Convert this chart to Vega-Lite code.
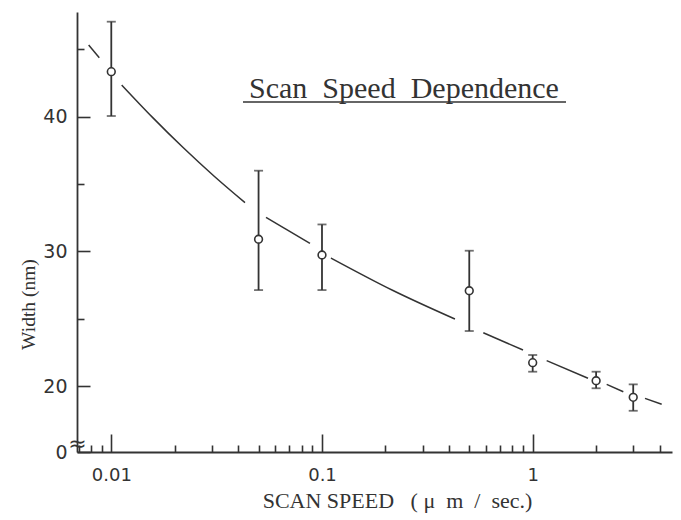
{
  "$schema": "https://vega.github.io/schema/vega-lite/v6.json",
  "width": 595,
  "height": 440,
  "autosize": {"type": "none"},
  "padding": {"left": 77, "top": 12, "right": 9, "bottom": 68},
  "background": "white",
  "config": {
    "view": {"stroke": null},
    "axis": {
      "grid": false,
      "domainColor": "#333",
      "domainWidth": 1.8,
      "tickColor": "#333",
      "tickWidth": 1.6,
      "labelColor": "#333",
      "labelFont": "DejaVu Sans",
      "labelFontWeight": "normal",
      "labelFontSize": 18,
      "titleColor": "#333",
      "titleFont": "Liberation Serif",
      "titleFontWeight": "normal",
      "titleFontSize": 20
    }
  },
  "datasets": {
    "pts": [
      {"speed": 0.01, "width": 43.34, "lo": 40.05, "hi": 47.05},
      {"speed": 0.05, "width": 30.9, "lo": 27.13, "hi": 35.99},
      {"speed": 0.1, "width": 29.73, "lo": 27.13, "hi": 32.0},
      {"speed": 0.5, "width": 27.08, "lo": 24.09, "hi": 30.05},
      {"speed": 1, "width": 21.74, "lo": 21.07, "hi": 22.31},
      {"speed": 2, "width": 20.4, "lo": 19.84, "hi": 21.07},
      {"speed": 3, "width": 19.17, "lo": 18.17, "hi": 20.13}
    ],
    "curve": [
      {"seg": 1, "speed": 0.00781, "width": 45.32},
      {"seg": 1, "speed": 0.00877, "width": 44.38},
      {"seg": 2, "speed": 0.01121, "width": 42.35},
      {"seg": 2, "speed": 0.01569, "width": 39.95},
      {"seg": 2, "speed": 0.02198, "width": 37.69},
      {"seg": 2, "speed": 0.03079, "width": 35.58},
      {"seg": 2, "speed": 0.04311, "width": 33.62},
      {"seg": 3, "speed": 0.05423, "width": 32.53},
      {"seg": 3, "speed": 0.0877, "width": 30.6},
      {"seg": 4, "speed": 0.1103, "width": 29.51},
      {"seg": 4, "speed": 0.2173, "width": 27.1},
      {"seg": 4, "speed": 0.4277, "width": 24.98},
      {"seg": 5, "speed": 0.5829, "width": 23.96},
      {"seg": 5, "speed": 0.8995, "width": 22.68},
      {"seg": 6, "speed": 1.165, "width": 21.89},
      {"seg": 6, "speed": 1.83, "width": 20.58},
      {"seg": 7, "speed": 2.245, "width": 20.13},
      {"seg": 7, "speed": 2.692, "width": 19.58},
      {"seg": 8, "speed": 3.412, "width": 19.09},
      {"seg": 8, "speed": 4.095, "width": 18.65}
    ]
  },
  "layer": [
    {
      "data": {"name": "curve"},
      "mark": {"type": "line", "color": "#333", "strokeWidth": 1.5, "interpolate": "monotone"},
      "encoding": {
        "x": {
          "field": "speed", "type": "quantitative",
          "scale": {"type": "log", "domain": [0.006875, 4.583], "nice": false},
          "axis": {
            "orient": "bottom",
            "values": [0.01, 0.1, 1],
            "labelExpr": "datum.value < 0.05 ? '0.01' : datum.value < 0.5 ? '0.1' : '1'",
            "tickSize": -18,
            "labelPadding": 32,
            "title": "SCAN SPEED\u00a0\u00a0\u00a0(\u00a0\u03bc\u00a0\u00a0m\u00a0\u00a0/\u00a0\u00a0sec.)",
            "titleFontSize": 22,
            "titleBaseline": "alphabetic",
            "titleX": 320,
            "titleY": 55,
            "titleAlign": "center",
            "labelFlush": false
          }
        },
        "y": {
          "field": "width", "type": "quantitative",
          "scale": {"domain": [15.11, 47.77], "nice": false, "zero": false},
          "axis": {
            "orient": "left",
            "values": [15.11, 20, 30, 40],
            "labelExpr": "datum.value < 16 ? '0' : format(datum.value, 'd')",
            "tickSize": -13,
            "labelPadding": 23,
            "labelFontSize": 19,
            "title": "Width (nm)",
            "titleFontSize": 19.5,
            "titleBaseline": "alphabetic",
            "titleAngle": 270,
            "titleX": -43,
            "titleY": 292,
            "titleAlign": "center",
            "titleLimit": 400,
            "labelFlush": false
          }
        },
        "detail": {"field": "seg", "type": "nominal"}
      }
    },
    {
      "data": {"name": "pts"},
      "mark": {"type": "rule", "color": "#333", "strokeWidth": 1.8},
      "encoding": {
        "x": {
          "field": "speed", "type": "quantitative",
          "scale": {"type": "log", "domain": [0.006875, 4.583], "nice": false},
          "axis": {
            "orient": "bottom",
            "values": [0.007, 0.008, 0.009, 0.02, 0.03, 0.04, 0.05, 0.06, 0.07, 0.08, 0.09, 0.2, 0.3, 0.4, 0.5, 0.6, 0.7, 0.8, 0.9, 2, 3, 4],
            "labels": false,
            "domain": false,
            "tickSize": -7,
            "title": null
          }
        },
        "y": {
          "field": "lo", "type": "quantitative",
          "axis": {
            "orient": "left",
            "values": [25, 35, 45],
            "labels": false,
            "domain": false,
            "tickSize": -7,
            "title": null
          }
        },
        "y2": {"field": "hi"}
      }
    },
    {
      "data": {"name": "pts"},
      "mark": {"type": "tick", "orient": "horizontal", "color": "#333", "size": 9, "thickness": 1.8},
      "encoding": {
        "x": {"field": "speed", "type": "quantitative", "axis": null},
        "y": {"field": "lo", "type": "quantitative", "axis": null}
      }
    },
    {
      "data": {"name": "pts"},
      "mark": {"type": "tick", "orient": "horizontal", "color": "#333", "size": 9, "thickness": 1.8},
      "encoding": {
        "x": {"field": "speed", "type": "quantitative", "axis": null},
        "y": {"field": "hi", "type": "quantitative", "axis": null}
      }
    },
    {
      "data": {"name": "pts"},
      "mark": {"type": "point", "shape": "circle", "filled": true, "fill": "white", "stroke": "#333", "strokeWidth": 1.6, "size": 60, "opacity": 1},
      "encoding": {
        "x": {"field": "speed", "type": "quantitative", "axis": null},
        "y": {"field": "width", "type": "quantitative", "axis": null}
      }
    },
    {
      "data": {"values": [{"label": "Scan\u00a0\u00a0Speed\u00a0\u00a0Dependence"}]},
      "mark": {"type": "text", "font": "Liberation Serif", "fontSize": 30, "color": "#333", "align": "center", "baseline": "alphabetic"},
      "encoding": {
        "x": {"datum": 0.2449, "type": "quantitative", "axis": null},
        "y": {"datum": 41.39, "type": "quantitative", "axis": null},
        "text": {"field": "label"}
      }
    },
    {
      "data": {"values": [{"label": "underline"}]},
      "mark": {"type": "rule", "color": "#333", "strokeWidth": 1.5},
      "encoding": {
        "x": {"datum": 0.04217, "type": "quantitative", "axis": null},
        "x2": {"datum": 1.439},
        "y": {"datum": 41.09, "type": "quantitative", "axis": null}
      }
    },
    {
      "data": {"values": [{"label": "\u2248"}]},
      "mark": {"type": "text", "font": "DejaVu Sans", "fontSize": 22, "color": "#333", "align": "center", "baseline": "middle"},
      "encoding": {
        "x": {"datum": 0.00691, "type": "quantitative", "axis": null},
        "y": {"datum": 15.7, "type": "quantitative", "axis": null},
        "text": {"field": "label"}
      }
    }
  ],
  "resolve": {"axis": {"x": "independent", "y": "independent"}}
}
